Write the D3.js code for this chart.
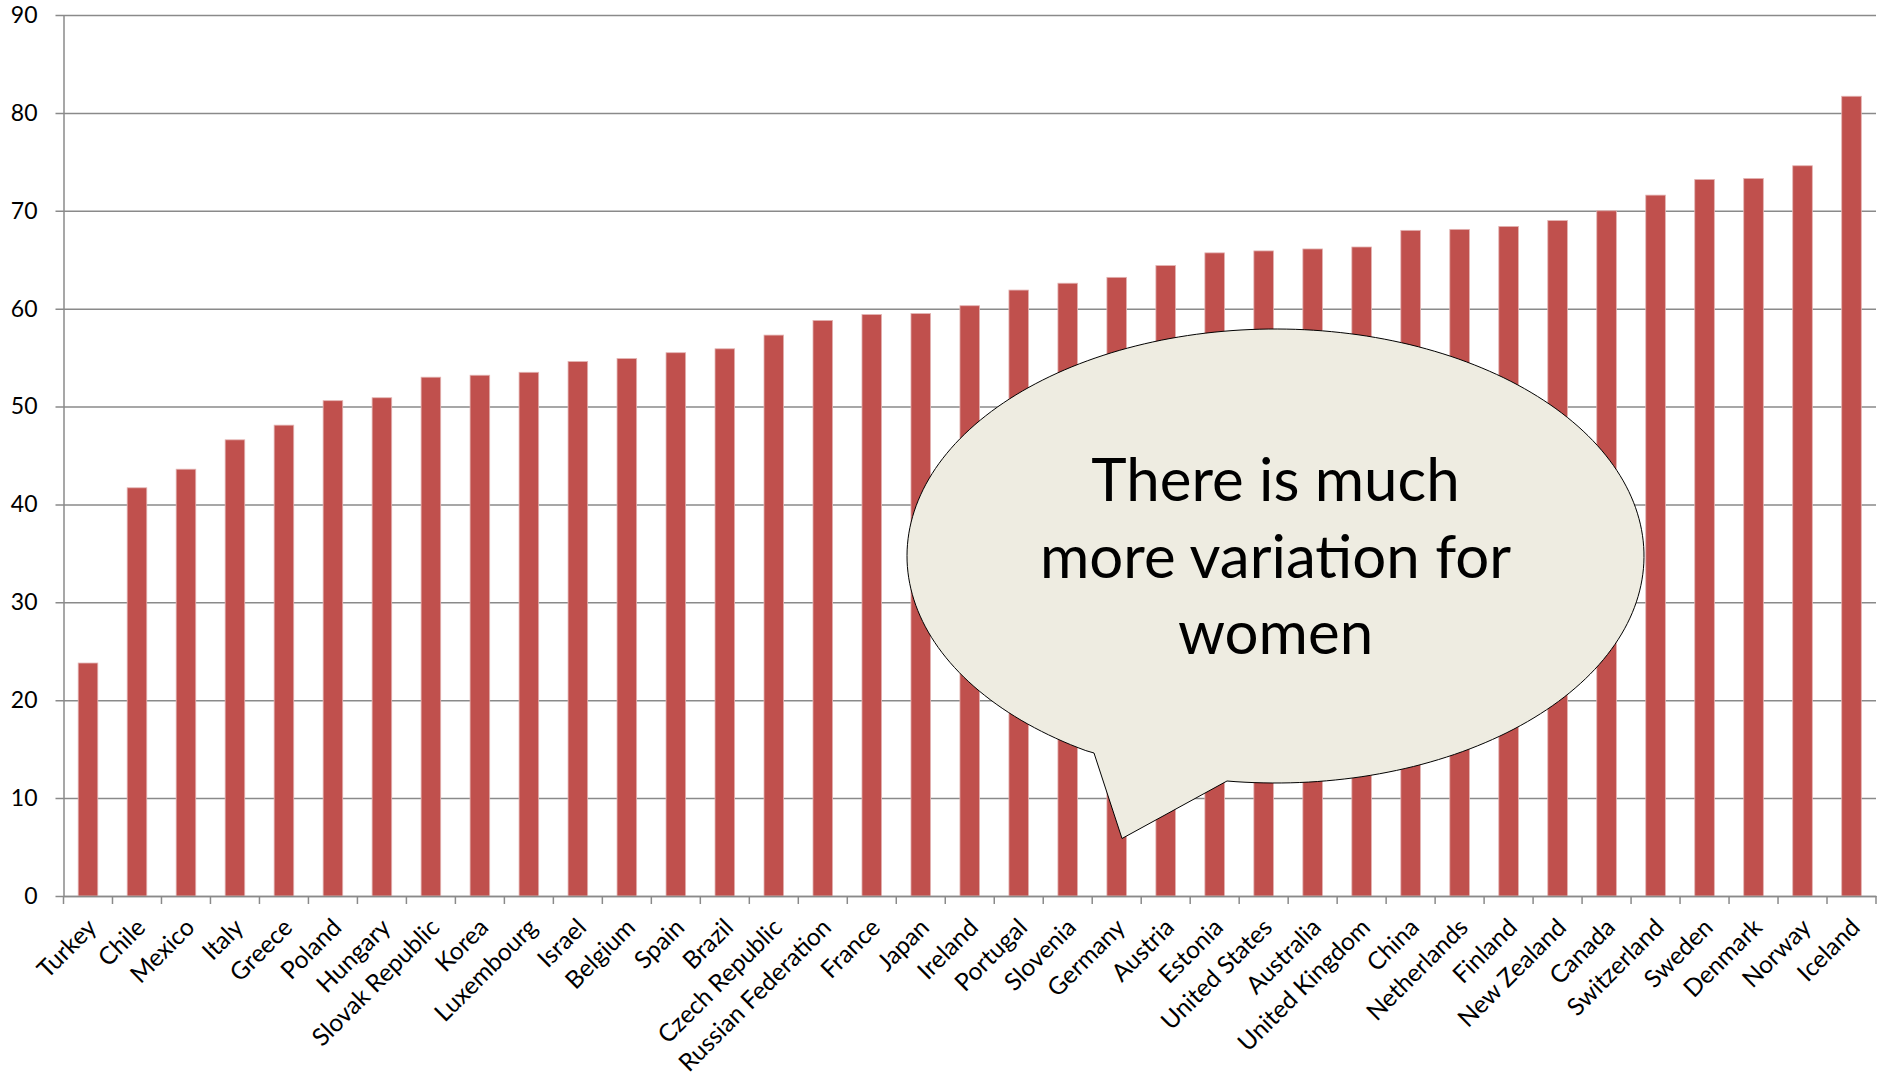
<!DOCTYPE html>
<html>
<head>
<meta charset="utf-8">
<script src="https://cdn.jsdelivr.net/npm/d3@7"></script>
<style>
  html, body { margin: 0; padding: 0; background: #fff; }
  svg { display: block; }
</style>
</head>
<body>
<div id="chart"></div>
<script>
// ─── data ─────────────────────────────────────────────────────────
const countries = [
  "Turkey", "Chile", "Mexico", "Italy", "Greece", "Poland", "Hungary",
  "Slovak Republic", "Korea", "Luxembourg", "Israel", "Belgium", "Spain",
  "Brazil", "Czech Republic", "Russian Federation", "France", "Japan",
  "Ireland", "Portugal", "Slovenia", "Germany", "Austria", "Estonia",
  "United States", "Australia", "United Kingdom", "China", "Netherlands",
  "Finland", "New Zealand", "Canada", "Switzerland", "Sweden", "Denmark",
  "Norway", "Iceland"
];
const values = [
  23.8, 41.7, 43.6, 46.6, 48.1, 50.6, 50.9,
  53.0, 53.2, 53.5, 54.6, 54.9, 55.5,
  55.9, 57.3, 58.8, 59.4, 59.5,
  60.3, 61.9, 62.6, 63.2, 64.4, 65.7,
  65.9, 66.1, 66.3, 68.0, 68.1,
  68.4, 69.0, 70.0, 71.6, 73.2, 73.3,
  74.6, 81.7
];
const yTicks = [0, 10, 20, 30, 40, 50, 60, 70, 80, 90];
const calloutLines = ["There is much", "more variation for", "women"];

// ─── colours ──────────────────────────────────────────────────────
const barRed   = "#c0504d";
const gridGrey = "#8a8a8a";
const bubble   = "#eeece1";

const data = countries.map((c, i) => ({ country: c, value: values[i] }));

const width  = 1877;
const height = 1085;
const margin = { top: 15, right: 1, bottom: 189, left: 63.5 };

const svg = d3.select("#chart")
  .append("svg")
  .attr("width", width)
  .attr("height", height);

const x = d3.scaleBand()
  .domain(countries)
  .range([margin.left, width - margin.right])
  .paddingInner(0.6)
  .paddingOuter(0.3);

const y = d3.scaleLinear()
  .domain([0, 90])
  .range([height - margin.bottom, margin.top]);

// ── y axis + gridlines ───────────────────────────────────────────
const yAxis = svg.append("g")
  .attr("transform", `translate(${margin.left},0)`)
  .call(d3.axisLeft(y)
    .tickValues(yTicks)
    .tickSizeInner(-(width - margin.right - margin.left))
    .tickSizeOuter(0)
    .tickPadding(26));

yAxis.select(".domain")
  .attr("stroke", gridGrey)
  .attr("stroke-width", 1.5);

yAxis.selectAll(".tick line")
  .attr("x1", -8)
  .attr("stroke", gridGrey)
  .attr("stroke-width", 1.5);

yAxis.selectAll(".tick text")
  .style("font-family", "Lato, sans-serif")
  .style("font-size", "23px")
  .attr("fill", "#000");

// ── bars ──────────────────────────────────────────────────────────
svg.append("g")
  .selectAll("rect")
  .data(data)
  .join("rect")
  .attr("x", d => x(d.country))
  .attr("y", d => y(d.value))
  .attr("width", x.bandwidth())
  .attr("height", d => y(0) - y(d.value))
  .attr("fill", barRed)
  .attr("stroke", "#e3b3b2")
  .attr("stroke-width", 0.8);

// ── x axis ────────────────────────────────────────────────────────
const xAxis = svg.append("g")
  .attr("transform", `translate(0,${y(0)})`)
  .call(d3.axisBottom(x).tickSize(0).tickPadding(0));

xAxis.select(".domain")
  .attr("stroke", gridGrey)
  .attr("stroke-width", 1.5);

// category boundary ticks
const boundaries = countries.map(c => x(c) - x.step() * x.paddingInner() / 2)
  .concat([width - margin.right]);

xAxis.selectAll("line.boundary")
  .data(boundaries)
  .join("line")
  .attr("class", "boundary")
  .attr("x1", d => d)
  .attr("x2", d => d)
  .attr("y1", 0)
  .attr("y2", 8)
  .attr("stroke", gridGrey)
  .attr("stroke-width", 1.5);

xAxis.selectAll(".tick text")
  .style("font-family", "Lato, sans-serif")
  .style("font-size", "24.5px")
  .attr("fill", "#000")
  .attr("text-anchor", "end")
  .attr("dy", null)
  .attr("y", 0)
  .attr("transform", "translate(10,33) rotate(-45)");

// ── speech bubble ─────────────────────────────────────────────────
const cx = 1275.5, cy = 556, rx = 368.5, ry = 227;
const tail = [[1094, 753], [1122, 838.5], [1227, 781]];

// walk the ellipse the long way round, from the right end of the tail back to its left end
const angleOf = p => Math.atan2((p[1] - cy) / ry, (p[0] - cx) / rx);
const a0 = angleOf(tail[2]);
let a1 = angleOf(tail[0]);
if (a1 > a0) a1 -= 2 * Math.PI;
const steps = 240;
const outline = [tail[0], tail[1], tail[2]];
for (let i = 1; i < steps; i++) {
  const a = a0 + (a1 - a0) * i / steps;
  outline.push([cx + rx * Math.cos(a), cy + ry * Math.sin(a)]);
}

svg.append("path")
  .attr("d", d3.line()(outline) + "Z")
  .attr("fill", bubble)
  .attr("stroke", "#000")
  .attr("stroke-width", 1);

svg.append("g")
  .selectAll("text")
  .data(calloutLines)
  .join("text")
  .attr("x", cx)
  .attr("y", (d, i) => 501 + i * 76.5)
  .attr("text-anchor", "middle")
  .style("font-family", "Lato, sans-serif")
  .style("font-size", "60px")
  .attr("fill", "#000")
  .text(d => d);
</script>
</body>
</html>
